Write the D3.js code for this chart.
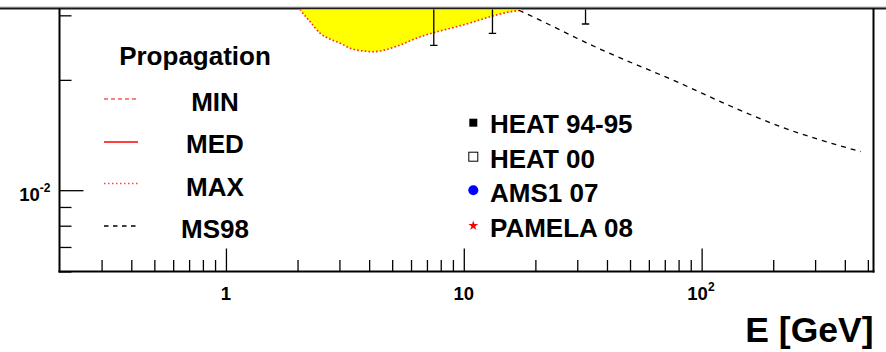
<!DOCTYPE html>
<html><head><meta charset="utf-8">
<script src="https://cdn.jsdelivr.net/npm/d3@7"></script>
<style>
body{margin:0;background:#fff}
svg{display:block}
text{font-family:"Liberation Sans",Arial,Helvetica,sans-serif;font-weight:bold;fill:#000}
</style>
</head><body>
<svg id="chart" width="886" height="352"></svg>
<script>
// Positron fraction vs energy.
// Lower edge of the propagation band (MAX set), energies in GeV
const bandE   = [1.8, 2.06, 2.26, 2.49, 2.75, 3.03, 3.33, 3.78, 4.17, 4.77, 5.42, 6.57, 7.46, 8.79, 10.7, 12.9, 15.7, 17.3, 22, 30];
const bandMax = [0.036, 0.0310, 0.0288, 0.0268, 0.0258, 0.02517, 0.02439, 0.02398, 0.02387, 0.02423, 0.02493, 0.02623, 0.0269, 0.02765, 0.02864, 0.02974, 0.03069, 0.0310, 0.0335, 0.037];

// Moskalenko & Strong 1998 secondary prediction
const ms98E    = [5, 10, 17.0, 37.6, 81.4, 132, 215, 467];
const ms98Frac = [0.045, 0.036, 0.0310, 0.02423, 0.01957, 0.01697, 0.0149, 0.01274];

// HEAT 94-95 points: energies and lower ends of their error bars
const heatE   = [7.48, 13.2, 32.5];
const heatLow = [0.02485, 0.0268, 0.02841];

// Axis ticks
const xMajor = [1, 10, 100];
const xMajorLabels = [["1", ""], ["10", ""], ["10", "2"]];
const xMinor = [0.3,0.4,0.5,0.6,0.7,0.8,0.9, 2,3,4,5,6,7,8,9, 20,30,40,50,60,70,80,90, 200,300,400,500];
const yMajor = [0.01];
const yMajorLabels = [["10", "-2"]];
const yMinor = [0.006, 0.007, 0.008, 0.009, 0.02, 0.03];

// Legends
const propLabels = ["MIN", "MED", "MAX", "MS98"];
const dataLabels = ["HEAT 94-95", "HEAT 00", "AMS1 07", "PAMELA 08"];

const svg = d3.select("#chart");
const L = 59.5, R = 873.5, B = 271.5, T = 9.5;

const x = d3.scaleLog().domain([0.2, 528]).range([L + 0.2, R]);
const y = d3.scaleLog().domain([0.006, 0.06]).range([B, B - 366.5]);

// band line across the top
svg.append("line").attr("x1", 0).attr("x2", 886).attr("y1", 7).attr("y2", 7)
  .attr("stroke", "#b8b8b8").attr("stroke-width", 1);
svg.append("line").attr("x1", 0).attr("x2", 886).attr("y1", 8.5).attr("y2", 8.5)
  .attr("stroke", "#1a1a1a").attr("stroke-width", 2);

svg.append("clipPath").attr("id", "plot")
  .append("rect").attr("x", L).attr("y", T).attr("width", R - L).attr("height", B - T);
const plot = svg.append("g").attr("clip-path", "url(#plot)");

const band = bandE.map((e, i) => ({e, v: bandMax[i]}));
const topY = y.range()[1];

plot.append("path").datum(band)
  .attr("fill", "#ffff00")
  .attr("d", d3.area().x(d => x(d.e)).y0(topY).y1(d => y(d.v)).curve(d3.curveMonotoneX));

plot.append("path").datum(band)
  .attr("fill", "none").attr("stroke", "#ff2020").attr("stroke-width", 1.6)
  .attr("stroke-dasharray", "1.6,2.2")
  .attr("d", d3.line().x(d => x(d.e)).y(d => y(d.v)).curve(d3.curveMonotoneX));

const ms = ms98E.map((e, i) => ({e, v: ms98Frac[i]}));
plot.append("path").datum(ms)
  .attr("fill", "none").attr("stroke", "#000").attr("stroke-width", 1.3)
  .attr("stroke-dasharray", "5,5")
  .attr("d", d3.line().x(d => x(d.e)).y(d => y(d.v)).curve(d3.curveMonotoneX));

// HEAT error bars (central values lie above the visible range)
const heat = heatE.map((e, i) => ({e, lo: heatLow[i]}));
const eb = plot.selectAll("g.eb").data(heat).join("g").attr("class", "eb");
eb.append("line").attr("x1", d => x(d.e)).attr("x2", d => x(d.e))
  .attr("y1", d => y(d.lo)).attr("y2", topY)
  .attr("stroke", "#000").attr("stroke-width", 1.3);
eb.append("line").attr("x1", d => x(d.e) - 3.7).attr("x2", d => x(d.e) + 3.7)
  .attr("y1", d => y(d.lo)).attr("y2", d => y(d.lo))
  .attr("stroke", "#000").attr("stroke-width", 1.3);

// Axes (ticks point into the frame)
function styleAxis(g) {
  g.select(".domain").remove();
  g.selectAll(".tick line").attr("stroke", "#000").attr("stroke-width", 1.3);
}
svg.append("g").attr("transform", `translate(0,${B})`)
  .call(d3.axisBottom(x).tickValues(xMinor).tickSize(-11.5).tickFormat(""))
  .call(styleAxis);
svg.append("g").attr("transform", `translate(0,${B})`)
  .call(d3.axisBottom(x).tickValues(xMajor).tickSize(-23).tickFormat(""))
  .call(styleAxis);
svg.append("g").attr("transform", `translate(${L},0)`)
  .call(d3.axisLeft(y).tickValues(yMinor).tickSize(-12).tickFormat(""))
  .call(styleAxis);
svg.append("g").attr("transform", `translate(${L},0)`)
  .call(d3.axisLeft(y).tickValues(yMajor).tickSize(-24).tickFormat(""))
  .call(styleAxis);

// frame lines
svg.append("line").attr("x1", L).attr("x2", L).attr("y1", T - 1).attr("y2", B + 1)
  .attr("stroke", "#000").attr("stroke-width", 2);
svg.append("line").attr("x1", R).attr("x2", R).attr("y1", T - 1).attr("y2", B + 1)
  .attr("stroke", "#000").attr("stroke-width", 2);
svg.append("line").attr("x1", L - 1).attr("x2", R + 1).attr("y1", B).attr("y2", B)
  .attr("stroke", "#000").attr("stroke-width", 2);

// x tick labels
xMajor.forEach((v, i) => {
  const [base, sup] = xMajorLabels[i];
  const t = svg.append("text").attr("y", 299.8).attr("font-size", 18.5);
  t.append("tspan").text(base);
  if (sup) t.append("tspan").attr("font-size", 12).attr("dy", -8.5).text(sup);
  const bw = t.select("tspan").node().getComputedTextLength();
  t.attr("x", x(v) - bw / 2 - (sup ? 4 : 0));
});

// y tick labels
yMajor.forEach((v, i) => {
  const [base, sup] = yMajorLabels[i];
  const t = svg.append("text").attr("y", y(v) + 10.5).attr("font-size", 18.5).attr("text-anchor", "end").attr("x", 50.5);
  t.append("tspan").text(base);
  t.append("tspan").attr("font-size", 12).attr("dy", -8.5).text(sup);
});

// axis title
svg.append("text").attr("x", R).attr("y", 341.5).attr("text-anchor", "end")
  .attr("font-size", 35.5).text("E [GeV]");

// Propagation legend
svg.append("text").attr("x", 195).attr("y", 64.5).attr("text-anchor", "middle")
  .attr("font-size", 26).text("Propagation");
const propStyles = [
  {stroke: "#ff0000", dash: "4,3", w: 1},
  {stroke: "#ff0000", dash: null, w: 1.3},
  {stroke: "#ff4040", dash: "1.5,2.5", w: 1.6},
  {stroke: "#000000", dash: "4.5,4.5", w: 1.3}
];
const propRowY = [99, 142, 183.5, 226];
const propBase = [110.5, 153, 195.7, 237.5];
propLabels.forEach((lab, i) => {
  const s = propStyles[i];
  svg.append("line").attr("x1", 104).attr("x2", 138).attr("y1", propRowY[i]).attr("y2", propRowY[i])
    .attr("stroke", s.stroke).attr("stroke-width", s.w).attr("stroke-dasharray", s.dash);
  svg.append("text").attr("x", 215).attr("y", propBase[i]).attr("text-anchor", "middle")
    .attr("font-size", 26).text(lab);
});

// Data legend
const dataRowY = [122.7, 156.7, 190.2, 225.7];
const dataBase = [132.8, 167.6, 202.3, 237];
const mx = 473.3;
svg.append("rect").attr("x", mx - 4).attr("y", dataRowY[0] - 4).attr("width", 8).attr("height", 8).attr("fill", "#000");
svg.append("rect").attr("x", mx - 4.5).attr("y", dataRowY[1] - 4.5).attr("width", 9).attr("height", 9)
  .attr("fill", "#fff").attr("stroke", "#000").attr("stroke-width", 1);
svg.append("circle").attr("cx", mx).attr("cy", dataRowY[2]).attr("r", 5).attr("fill", "#0000ff");
svg.append("path").attr("transform", `translate(${mx},${dataRowY[3]})`)
  .attr("d", d3.symbol(d3.symbolStar, 30)()).attr("fill", "#ff0000");
dataLabels.forEach((lab, i) => {
  svg.append("text").attr("x", 490).attr("y", dataBase[i]).attr("font-size", 26).text(lab);
});
</script>
</body></html>
